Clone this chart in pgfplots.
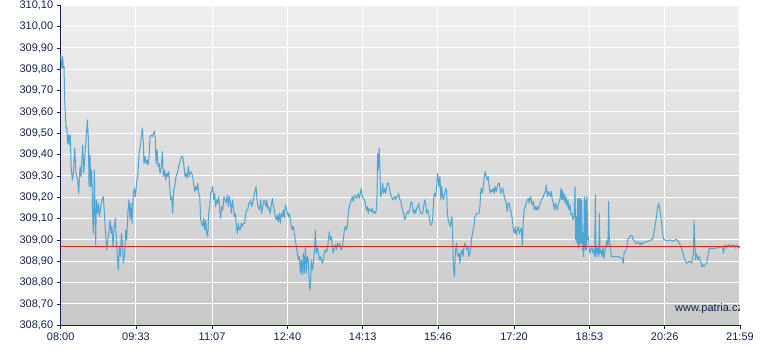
\documentclass[border=0pt]{standalone}
\usepackage{pgfplots}
\pgfplotsset{compat=1.18}
\usepackage{pgfplotstable}
\usepackage{fontspec}
\setmainfont{Liberation Sans}
\definecolor{navy}{RGB}{18,32,84}
\definecolor{linec}{RGB}{76,165,210}
\definecolor{redl}{RGB}{226,32,32}
\definecolor{bgtop}{RGB}{240,240,240}
\definecolor{bgbot}{RGB}{200,200,200}
\pgfplotstableread{
t v
0 309.867
1.6 309.805
2.5 309.859
3.3 309.805
4.1 309.813
4.9 309.656
6.6 309.523
7.4 309.531
8.6 309.453
9.9 309.492
10.7 309.445
11.9 309.492
12.8 309.344
14.4 309.281
15.6 309.305
17.3 309.430
18.9 309.313
21.0 309.281
22.2 309.219
23.9 309.344
25.1 309.297
27.2 309.445
28.4 309.313
30.1 309.406
31.3 309.469
32.9 309.563
34.2 309.469
35.0 309.250
36.2 309.398
37.1 309.250
38.3 309.328
39.5 309.109
40.3 309.031
41.6 309.328
42.4 309.109
43.2 308.977
44.1 309.188
45.3 309.125
46.5 309.172
47.8 309.109
49.4 309.156
51.1 309.188
52.7 309.203
53.9 309.125
56.0 309.000
56.8 308.953
58.1 309.000
59.3 309.031
60.9 309.094
62.2 309.031
63.4 309.063
64.6 308.969
65.9 309.047
67.5 309.102
68.8 309.000
70.0 308.922
71.2 308.859
72.5 308.969
73.7 308.922
74.9 309.031
76.2 308.984
77.4 308.891
79.0 308.938
80.3 309.047
81.5 309.000
83.2 309.141
84.4 309.188
85.6 309.094
86.9 309.172
88.1 309.078
89.8 309.219
91.0 309.242
92.2 309.203
93.9 309.273
95.5 309.313
96.7 309.406
98.4 309.438
99.6 309.484
100.9 309.523
102.1 309.453
102.9 309.359
104.2 309.391
105.4 309.359
106.6 309.375
107.9 309.352
109.1 309.391
110.3 309.484
112.0 309.492
113.2 309.484
114.5 309.500
115.7 309.508
116.9 309.469
117.7 309.359
119.0 309.422
120.2 309.344
121.5 309.359
122.7 309.313
124.3 309.344
125.6 309.414
126.8 309.297
128.5 309.328
129.7 309.281
130.9 309.313
132.2 309.297
133.4 309.320
134.6 309.250
135.9 309.188
137.1 309.203
138.3 309.125
139.6 309.234
140.8 309.250
142.4 309.297
144.1 309.313
145.7 309.344
147.4 309.367
149.0 309.391
150.7 309.391
151.9 309.359
153.6 309.297
154.8 309.313
156.0 309.289
157.7 309.344
158.9 309.297
160.6 309.320
161.8 309.313
163.0 309.297
164.3 309.258
165.5 309.227
166.7 309.250
168.0 309.234
169.2 309.266
170.4 309.219
171.7 309.203
172.9 309.094
174.2 309.078
175.4 309.063
176.6 309.102
177.9 309.047
179.1 309.094
180.3 309.031
181.6 309.016
182.8 309.125
184.0 309.156
185.3 309.219
186.5 309.227
187.7 309.250
189.0 309.188
190.2 309.219
191.4 309.156
192.7 309.188
193.9 309.172
195.1 309.203
196.4 309.141
197.6 309.102
198.9 309.156
200.1 309.141
201.7 309.203
203.0 309.188
204.2 309.172
205.9 309.211
207.1 309.156
208.3 309.203
209.6 309.172
210.8 309.125
212.0 309.188
213.3 309.156
214.5 309.109
215.7 309.125
217.0 309.063
218.2 309.031
219.4 309.078
220.7 309.047
221.9 309.047
223.1 309.078
224.4 309.063
225.6 309.078
227.3 309.078
228.5 309.125
229.7 309.141
231.0 309.141
232.2 309.172
233.4 309.172
234.7 309.188
235.9 309.156
237.1 309.172
238.8 309.203
240.0 309.234
241.3 309.250
242.5 309.188
243.7 309.156
245.4 309.141
247.0 309.188
248.2 309.125
249.5 309.156
251.1 309.188
252.3 309.172
253.6 309.156
254.4 309.188
255.7 309.148
256.9 309.156
258.5 309.125
259.8 309.156
261.4 309.195
262.7 309.156
263.9 309.141
265.1 309.109
266.4 309.094
267.6 309.117
268.8 309.086
270.1 309.125
271.3 309.078
272.5 309.125
273.8 309.109
275.0 309.141
276.2 309.102
277.5 309.164
278.7 309.148
280.0 309.125
281.2 309.109
282.4 309.125
283.7 309.094
284.9 309.063
286.1 309.047
287.4 309.063
288.6 309.031
289.8 309.000
291.1 308.969
292.3 308.938
293.5 308.906
294.8 308.922
296.0 308.844
297.2 308.906
298.5 308.836
299.7 308.938
300.9 308.844
302.2 308.969
303.4 308.844
304.6 308.922
305.9 308.906
307.1 308.781
308.3 308.766
309.6 308.906
310.8 308.859
312.0 308.891
313.3 308.938
314.5 309.047
315.7 308.938
317.0 308.969
318.2 308.938
319.5 308.906
320.7 308.922
321.9 308.906
323.2 308.891
324.4 308.906
325.6 308.938
326.9 308.953
328.1 308.945
329.3 308.953
330.6 309.000
331.8 309.039
333.0 309.000
334.3 309.016
335.5 308.969
336.7 308.938
338.0 308.969
339.2 308.977
340.4 308.953
341.7 308.984
342.9 308.969
344.1 308.984
345.4 308.969
346.6 308.953
347.8 308.969
349.1 309.000
350.3 309.047
351.5 309.063
352.8 309.047
354.0 309.063
355.2 309.125
356.5 309.156
357.7 309.172
359.0 309.188
360.2 309.203
361.4 309.180
362.7 309.203
363.9 309.211
365.1 309.195
366.4 309.203
367.6 309.219
368.8 309.195
370.1 309.219
371.3 309.242
372.5 309.203
373.8 309.195
375.0 309.188
376.2 309.172
377.5 309.141
378.7 309.156
379.9 309.125
381.2 309.148
382.4 309.141
383.6 309.133
384.9 309.148
386.1 309.125
387.3 309.133
388.6 309.125
389.8 309.141
390.6 309.188
391.5 309.406
392.3 309.328
393.5 309.430
394.4 309.313
395.2 309.203
396.4 309.219
397.7 309.266
398.9 309.219
400.1 309.242
401.4 309.219
402.6 309.250
403.8 309.266
405.1 309.266
406.3 309.234
407.5 309.211
408.8 309.203
410.0 309.188
411.2 309.195
412.5 309.203
413.7 309.188
414.9 309.203
416.2 309.203
417.4 309.219
418.6 309.188
419.9 309.188
421.1 309.156
422.4 309.141
423.6 309.125
424.8 309.094
426.1 309.109
427.3 309.125
428.5 309.133
429.8 309.125
431.0 309.141
432.2 309.172
433.5 309.180
434.7 309.156
435.9 309.125
437.2 309.141
438.4 309.125
439.6 309.148
440.9 309.156
442.1 309.172
443.3 309.141
444.6 309.125
445.8 309.125
447.0 309.125
448.3 309.156
449.5 309.188
450.7 309.172
452.0 309.125
453.2 309.141
454.4 309.125
455.7 309.094
456.9 309.070
458.1 309.070
459.4 309.094
460.6 309.188
461.8 309.219
463.1 309.203
464.3 309.250
465.5 309.313
466.4 309.281
467.2 309.250
468.4 309.297
469.6 309.188
470.5 309.250
471.7 309.203
472.9 309.188
474.2 309.219
475.4 309.242
476.6 309.234
477.5 309.125
478.7 309.094
479.9 309.078
481.2 309.063
482.4 309.094
483.2 309.109
484.1 309.031
484.9 308.891
485.7 308.844
486.5 308.828
487.4 308.938
488.2 308.969
489.0 308.984
489.8 308.938
491.1 308.922
492.3 308.938
493.1 308.891
494.4 308.938
495.6 308.953
496.8 308.922
498.1 308.969
499.3 308.984
500.5 308.969
501.8 308.953
503.0 308.969
504.2 308.922
505.5 308.938
506.7 308.969
507.9 309.016
509.2 309.047
510.4 309.063
511.6 309.109
512.9 309.117
514.1 309.125
515.3 309.125
516.6 309.125
517.8 309.156
518.6 309.219
519.5 309.242
520.7 309.219
521.9 309.250
523.2 309.297
524.4 309.320
525.6 309.297
526.9 309.281
528.1 309.297
529.3 309.250
530.6 309.219
531.8 309.234
533.0 309.227
534.3 309.242
535.5 309.219
536.7 309.250
538.0 309.227
539.2 309.250
540.4 309.266
541.7 309.266
542.9 309.227
544.1 309.219
545.4 309.242
546.6 309.234
547.8 309.203
549.1 309.188
550.3 309.172
551.5 309.133
552.8 309.172
554.0 309.172
555.4 309.141
556.6 309.125
557.8 309.094
559.1 309.047
560.3 309.031
561.5 309.063
562.8 309.023
564.0 309.047
565.3 309.063
566.5 309.031
567.7 309.047
569.0 309.055
570.2 308.969
571.4 309.094
572.7 309.148
573.9 309.156
575.1 309.172
576.4 309.188
577.6 309.195
578.8 309.172
580.1 309.203
581.3 309.188
582.5 309.164
583.8 309.180
585.0 309.141
586.2 309.156
587.5 309.141
588.7 309.156
589.9 309.141
591.2 309.164
592.4 309.172
593.6 309.188
594.9 309.195
596.1 309.203
597.3 309.219
598.6 309.227
599.8 309.258
601.0 309.203
602.3 309.227
603.5 309.219
604.7 309.203
606.0 309.227
607.2 309.188
608.5 309.172
609.7 309.141
610.9 309.172
612.2 309.156
613.4 309.141
614.6 309.172
615.9 309.180
617.1 309.203
617.9 309.242
618.7 309.188
619.6 309.234
620.4 309.188
621.6 309.219
622.9 309.172
624.1 309.203
625.3 309.156
626.6 309.188
627.8 309.141
629.0 309.164
630.3 309.117
631.5 309.125
632.7 309.094
634.0 309.109
635.2 309.250
636.0 309.000
636.8 309.109
637.7 308.984
638.5 309.195
639.3 308.961
640.1 309.195
641.0 308.969
641.8 309.195
642.6 308.984
643.4 309.188
644.3 308.953
645.1 309.031
645.9 308.922
646.7 309.203
647.6 308.953
648.4 309.188
649.2 308.953
650.0 309.203
650.9 309.000
651.7 309.016
652.5 308.969
653.7 308.938
655.0 308.953
656.2 308.969
657.4 308.938
658.7 308.953
659.5 308.922
660.3 309.211
661.2 308.922
662.0 308.969
662.8 308.938
663.6 308.961
664.5 308.922
665.3 309.125
666.1 308.938
667.3 308.953
668.6 308.922
669.8 308.969
671.0 308.914
672.3 308.953
673.5 308.969
674.8 309.000
676.0 308.969
676.8 309.180
677.6 309.000
678.9 308.969
680.1 308.922
681.3 308.922
686.7 308.922
690.8 308.919
693.3 308.914
694.9 308.891
695.8 308.938
697.0 308.945
698.2 308.953
699.5 308.969
700.7 309.008
702.0 309.008
703.2 309.016
704.4 309.022
705.7 309.019
706.9 309.000
708.1 309.000
709.4 308.992
710.6 308.984
711.8 308.984
713.1 308.992
714.3 308.984
715.5 308.977
716.8 308.988
718.0 308.977
719.2 308.988
720.5 308.988
723.8 308.992
727.9 308.997
731.2 309.003
733.3 309.047
735.3 309.094
737.4 309.156
738.6 309.172
739.9 309.148
741.5 309.102
743.2 309.047
744.4 309.003
746.5 309.000
748.5 308.997
752.6 309.000
756.8 308.994
760.1 309.003
762.1 308.997
764.2 308.984
765.8 308.969
767.5 308.953
769.1 308.930
771.2 308.906
773.2 308.891
775.3 308.898
777.4 308.898
779.4 308.891
780.7 308.922
781.5 308.938
782.3 309.094
783.1 309.000
784.0 308.906
784.8 308.938
786.0 308.922
787.3 308.906
788.5 308.922
789.7 308.906
791.0 308.891
792.2 308.875
793.4 308.883
794.7 308.875
795.9 308.883
797.9 308.891
800.0 308.938
801.2 308.961
804.1 308.961
808.2 308.961
814.4 308.966
817.7 308.969
818.5 308.938
819.8 308.969
821.0 308.977
822.2 308.961
823.5 308.972
824.7 308.977
825.9 308.969
827.2 308.977
828.4 308.966
829.6 308.977
830.9 308.969
832.1 308.977
833.3 308.961
834.6 308.977
835.8 308.969
837.5 308.961
838.7 308.969
}\pricedata
\begin{document}
\begin{tikzpicture}
\path[use as bounding box] (-60.7pt,-24.7pt) rectangle (719.3pt,325.3pt);
\begin{axis}[
  at={(0pt,0pt)}, anchor=south west,
  scale only axis, width=679.3pt, height=320pt,
  xmin=0, xmax=839, ymin=308.6, ymax=310.1,
  axis x line*=bottom, axis y line*=left,
  axis line style={-, navy, line width=1pt},
  tick align=outside, major tick length=4pt,
  tick style={navy, line width=0.8pt},
  xtick={0,93,187,280,373,466,560,653,746,839},
  xticklabels={08:00,09:33,11:07,12:40,14:13,15:46,17:20,18:53,20:26,21:59},
  ytick={308.6,308.7,308.8,308.9,309.0,309.1,309.2,309.3,309.4,309.5,309.6,309.7,309.8,309.9,310.0,310.1},
  scaled y ticks=false,
  /pgf/number format/assume math mode=true,
  yticklabel style={/pgf/number format/fixed, /pgf/number format/fixed zerofill, /pgf/number format/precision=2, /pgf/number format/use comma},
  ticklabel style={font=\fontsize{11pt}{13pt}\selectfont, text=navy},
  grid=major, major grid style={white, line width=1pt},
  axis background/.style={top color=bgtop, bottom color=bgbot},
]
\addplot[linec, line width=1pt, line join=round, mark=none] table[x=t, y=v] {\pricedata};
\addplot[redl, line width=1pt, mark=none] coordinates {(0,308.968) (839,308.968)};
\node[anchor=east, text=navy, font=\fontsize{11pt}{13pt}\selectfont, inner sep=0pt] at (axis cs:843,308.679) {www.patria.cz};
\end{axis}
\end{tikzpicture}
\end{document}
